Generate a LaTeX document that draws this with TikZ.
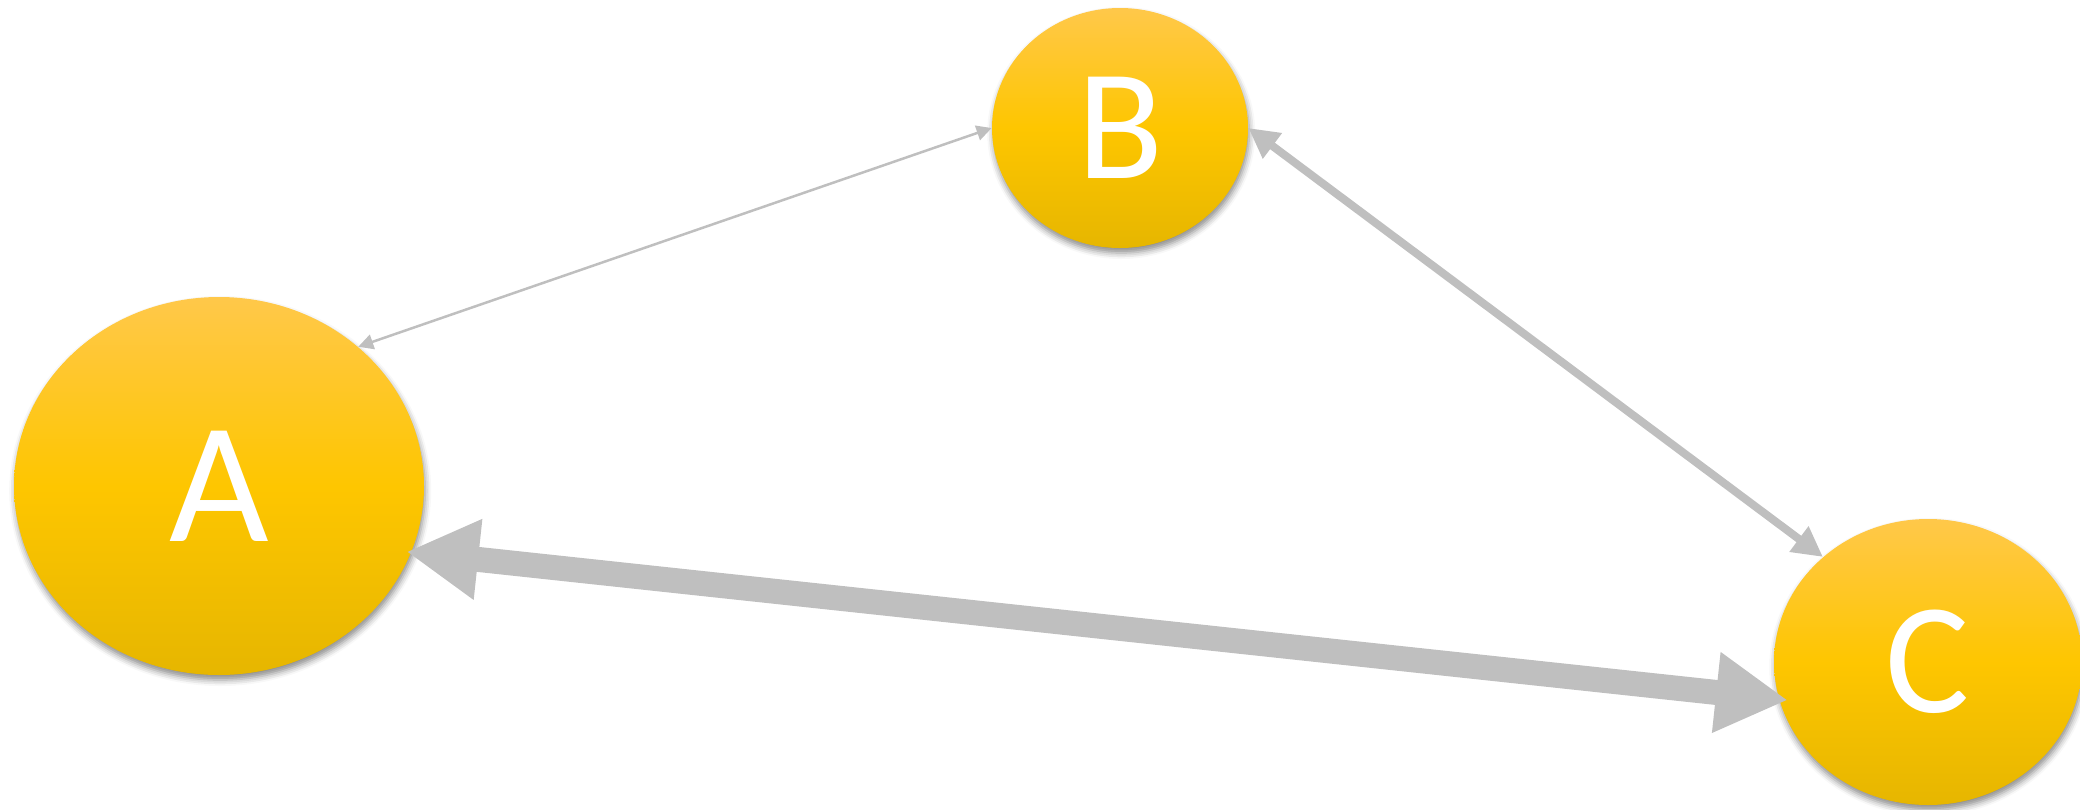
\documentclass[tikz,border=0pt]{standalone}
\usepackage{fontspec}
\setmainfont{Carlito}
\usetikzlibrary{shapes.geometric,arrows.meta,shadows.blur}
\definecolor{arrowgray}{RGB}{191,191,191}
\definecolor{ytop}{RGB}{255,200,74}
\definecolor{ymid}{RGB}{254,198,0}
\definecolor{ybot}{RGB}{230,182,0}
\begin{document}
\begin{tikzpicture}[x=0.5pt,y=-0.5pt,
  bubble/.style={ellipse, inner sep=0pt, text=white,
    top color=ytop, bottom color=ybot, middle color=ymid,
    blur shadow={shadow xshift=0.6pt, shadow yshift=-2.5pt,
      shadow blur radius=3pt, shadow opacity=45}},
  thinlink/.style={draw=arrowgray, line width=1.25pt,
    {Triangle[length=7.5pt,width=7.5pt]}-{Triangle[length=7.5pt,width=7.5pt]}},
  midlink/.style={draw=arrowgray, line width=4pt,
    {Triangle[length=15pt,width=15pt]}-{Triangle[length=15pt,width=15pt]}},
  thicklink/.style={draw=arrowgray, line width=12.5pt,
    {Triangle[length=36pt,width=38pt]}-{Triangle[length=36pt,width=38pt]}}
]
\useasboundingbox (0,0) rectangle (2080,809);
\clip (0,0) rectangle (2080,809);
\node[bubble, minimum width=205pt, minimum height=189pt,
  font=\fontsize{86}{90}\selectfont] (A) at (219,486) {A};
\node[bubble, minimum width=128pt, minimum height=120pt,
  font=\fontsize{79}{82}\selectfont] (B) at (1120,128) {B};
\node[bubble, minimum width=154pt, minimum height=143pt,
  font=\fontsize{79}{82}\selectfont] (C) at (1928,662) {C};
\draw[thinlink] (A.45) -- (B.west);
\draw[midlink] (B.east) -- (C.135);
\draw[thicklink, shorten <=-2.5pt, shorten >=-4.5pt] (A.-19) -- (C.194);
\end{tikzpicture}
\end{document}
